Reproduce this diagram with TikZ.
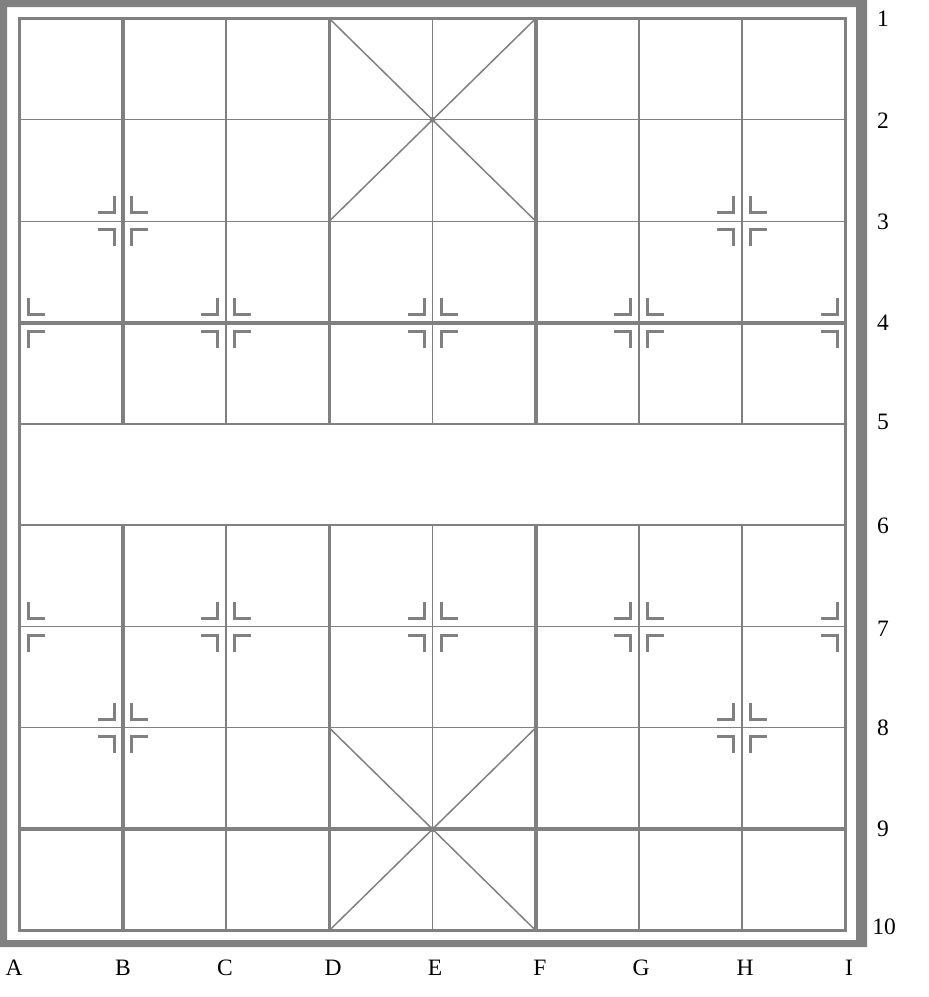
\documentclass[tikz,border=0pt]{standalone}
\usepackage{fontspec}
\setmainfont{Liberation Serif}
\begin{document}
\begin{tikzpicture}[x=1pt,y=-1pt,line cap=butt]
\definecolor{bd}{RGB}{128,128,128}
\tikzset{
  gl/.style={draw=bd},
  mk/.style={draw=bd,line width=3,line join=miter},
  lab/.style={font=\fontsize{23.5}{23.5}\selectfont,text=black,inner sep=0pt}
}
\newcommand{\xqleft}[2]{\begin{scope}[shift={(#1,#2)}]
  \draw[mk] (-8.5,-25) -- (-8.5,-8.5) -- (-25,-8.5);
  \draw[mk] (-8.5,25) -- (-8.5,8.5) -- (-25,8.5);
\end{scope}}
\newcommand{\xqright}[2]{\begin{scope}[shift={(#1,#2)}]
  \draw[mk] (8.5,-25) -- (8.5,-8.5) -- (25,-8.5);
  \draw[mk] (8.5,25) -- (8.5,8.5) -- (25,8.5);
\end{scope}}
\useasboundingbox (0,0) rectangle (929,997);
% outer frame
\fill[bd,even odd rule] (0,0) rectangle (867,947) (7,7) rectangle (856,940);
% inner border
\draw[gl,line width=3.5] (19.5,18.5) rectangle (845.5,930.5);
% vertical lines (broken at the river)
\foreach \x/\w in {122.75/4.5,226/2,329.25/2.8,432.5/1,535.75/4,639/1.4,742.25/2}{
  \draw[gl,line width=\w] (\x,18.5) -- (\x,423.8) (\x,525.2) -- (\x,930.5);
}
% horizontal lines
\foreach \y/\w in {119.8/1,221.2/1,322.5/4,423.8/2,525.2/2,626.5/1,727.8/1,829.2/4}{
  \draw[gl,line width=\w] (19.5,\y) -- (845.5,\y);
}
% palaces
\draw[gl,line width=1.5] (329.25,18.5) -- (535.75,221.2) (535.75,18.5) -- (329.25,221.2);
\draw[gl,line width=1.5] (329.25,727.8) -- (535.75,930.5) (535.75,727.8) -- (329.25,930.5);
\fill[bd] (432.5,119.8) circle (3);
\fill[bd] (432.5,829.2) circle (3);
% position markers
\foreach \x/\y in {122.75/221.2,742.25/221.2,122.75/727.8,742.25/727.8,
  226/322.5,432.5/322.5,639/322.5,226/626.5,432.5/626.5,639/626.5}{
  \xqleft{\x}{\y}\xqright{\x}{\y}
}
\xqright{19.5}{322.5}\xqright{19.5}{626.5}
\xqleft{845.5}{322.5}\xqleft{845.5}{626.5}
% row numbers
\node[lab] (r1) at (883,19) {1};
\node[lab] (r2) at (883,121) {2};
\node[lab] (r3) at (883,222) {3};
\node[lab] (r4) at (883,323) {4};
\node[lab] (r5) at (883,422) {5};
\node[lab] (r6) at (883,526) {6};
\node[lab] (r7) at (883,629) {7};
\node[lab] (r8) at (883,728) {8};
\node[lab] (r9) at (883,829) {9};
\node[lab] (r10) at (884,927) {10};
% column letters
\node[lab] (cA) at (14,968) {A};
\node[lab] (cB) at (123,968) {B};
\node[lab] (cC) at (225,968) {C};
\node[lab] (cD) at (333,968) {D};
\node[lab] (cE) at (435,968) {E};
\node[lab] (cF) at (540,968) {F};
\node[lab] (cG) at (641,968) {G};
\node[lab] (cH) at (745,968) {H};
\node[lab] (cI) at (849,968) {I};
\end{tikzpicture}
\end{document}
